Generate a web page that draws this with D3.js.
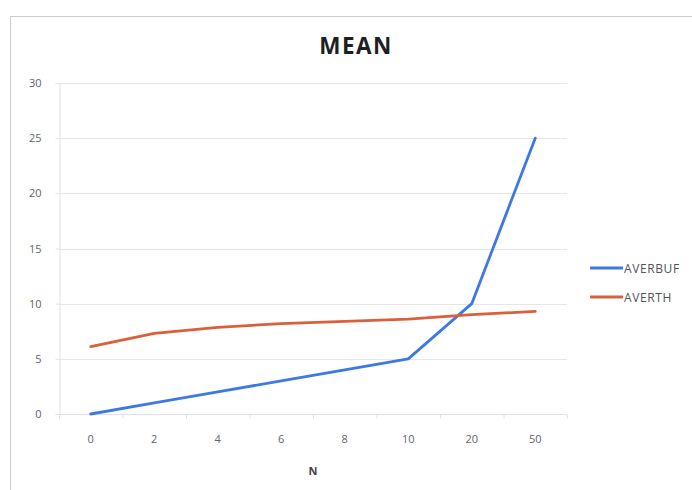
<!DOCTYPE html>
<html>
<head>
<meta charset="utf-8">
<script src="https://cdn.jsdelivr.net/npm/d3@7"></script>
<style>
  html, body { margin: 0; padding: 0; background: #fff; }
  svg { display: block; }
</style>
</head>
<body>
<svg id="chart" width="692" height="490"></svg>
<script>
// Category axis (N) and the two series
const categories = ["0", "2", "4", "6", "8", "10", "20", "50"];
const averbuf = [0, 1, 2, 3, 4, 5, 10, 25];
const averth = [6.1, 7.3, 7.85, 8.2, 8.4, 8.6, 9.0, 9.3];
const yTicks = [0, 5, 10, 15, 20, 25, 30];
const seriesNames = ["AVERBUF", "AVERTH"];
const seriesColors = ["#3d79e4", "#db5f38"];

const svg = d3.select("#chart");
const font = "'Open Sans', 'Liberation Sans', sans-serif";

// outer chart frame
svg.append("rect")
  .attr("x", 10.5).attr("y", 16.5)
  .attr("width", 700).attr("height", 500)
  .attr("fill", "#fff").attr("stroke", "#c9ccd3").attr("stroke-width", 1);

const plot = { left: 59, right: 567, top: 83, bottom: 414 };

const x = d3.scaleBand().domain(categories).range([plot.left, plot.right]);
const y = d3.scaleLinear().domain([0, 30]).range([plot.bottom, plot.top]);

// horizontal gridlines
svg.append("g").selectAll("line").data(yTicks).join("line")
  .attr("x1", plot.left).attr("x2", plot.right)
  .attr("y1", d => Math.round(y(d)) + 0.5).attr("y2", d => Math.round(y(d)) + 0.5)
  .attr("stroke", "#e4e6ea").attr("stroke-width", 1);

// y axis
const yAxis = svg.append("g")
  .attr("transform", `translate(${plot.left + 0.5},0)`)
  .call(d3.axisLeft(y).tickValues(yTicks).tickSize(4).tickPadding(14));
yAxis.select(".domain").attr("stroke", "#dfe2e8");
yAxis.selectAll(".tick line").attr("stroke", "#dfe2e8");
yAxis.selectAll(".tick text").attr("fill", "#5f636a")
  .style("font-family", font).style("font-size", "11px");

// x axis with ticks between categories
const xAxisG = svg.append("g")
  .attr("transform", `translate(0,${Math.round(y(0)) + 0.5})`);
xAxisG.append("line").attr("x1", plot.left).attr("x2", plot.right)
  .attr("stroke", "#dfe2e8");
xAxisG.selectAll("line.tk").data(categories.concat(["end"])).join("line")
  .attr("class", "tk")
  .attr("x1", (d, i) => plot.left + i * x.step() + 0.5)
  .attr("x2", (d, i) => plot.left + i * x.step() + 0.5)
  .attr("y1", 0).attr("y2", 4).attr("stroke", "#dfe2e8");
xAxisG.selectAll("text").data(categories).join("text")
  .attr("x", d => x(d) + x.bandwidth() / 2)
  .attr("y", 28)
  .attr("text-anchor", "middle")
  .attr("fill", "#5f636a")
  .style("font-family", font).style("font-size", "11px")
  .text(d => d);

// axis title
svg.append("text")
  .attr("x", 313).attr("y", 475)
  .attr("text-anchor", "middle")
  .attr("fill", "#3f4247")
  .style("font-family", font).style("font-size", "11px").style("font-weight", "bold")
  .text("N");

// chart title
svg.append("text")
  .attr("x", 356).attr("y", 54)
  .attr("text-anchor", "middle")
  .attr("fill", "#1e1f22")
  .style("font-family", font).style("font-size", "22.5px").style("font-weight", "bold")
  .style("letter-spacing", "1.5px")
  .text("MEAN");

// series lines
const line = d3.line()
  .x((d, i) => x(categories[i]) + x.bandwidth() / 2)
  .y(d => y(d));

[averbuf, averth].forEach((vals, k) => {
  svg.append("path")
    .datum(vals)
    .attr("d", line)
    .attr("fill", "none")
    .attr("stroke", seriesColors[k])
    .attr("stroke-width", 2.8)
    .attr("stroke-linejoin", "round")
    .attr("stroke-linecap", "round");
});

// legend
const legend = svg.append("g");
seriesNames.forEach((name, k) => {
  const ly = 268 + k * 29;
  legend.append("line")
    .attr("x1", 590).attr("x2", 623).attr("y1", ly).attr("y2", ly)
    .attr("stroke", seriesColors[k]).attr("stroke-width", 2.8);
  legend.append("text")
    .attr("x", 624).attr("y", ly + 4.5)
    .attr("fill", "#4f535a")
    .style("font-family", font).style("font-size", "12px")
    .style("letter-spacing", "0.6px")
    .text(name);
});
</script>
</body>
</html>
